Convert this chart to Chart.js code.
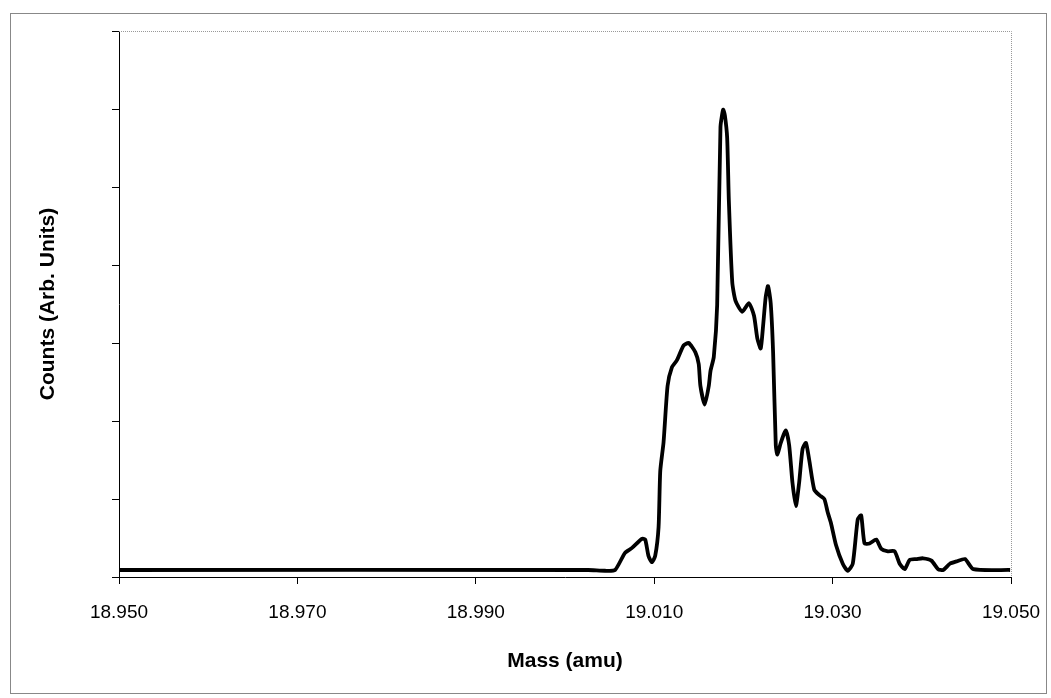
<!DOCTYPE html>
<html><head><meta charset="utf-8">
<script src="https://cdn.jsdelivr.net/npm/chart.js@4"></script>
<style>html,body{margin:0;padding:0;background:#fff}canvas{display:block}</style>
</head><body>
<div style="width:1051px;height:698px"><canvas id="c"></canvas></div>
<script>
const mass = [18.95,19.0026,19.00448,19.00561,19.00673,19.00748,19.00861,19.00899,19.00936,19.00974,19.01011,19.01049,19.01068,19.01105,19.0115,19.01199,19.01255,19.0133,19.01387,19.01462,19.01499,19.01518,19.01567,19.01612,19.01631,19.01668,19.01706,19.01743,19.01773,19.01792,19.01818,19.01837,19.01875,19.01912,19.01987,19.02062,19.02119,19.02156,19.02194,19.0222,19.0225,19.02276,19.02306,19.02333,19.02363,19.02381,19.02419,19.02475,19.02513,19.0255,19.02588,19.02625,19.02663,19.02701,19.02738,19.02794,19.02851,19.02907,19.02945,19.02982,19.03038,19.03114,19.0317,19.03226,19.03282,19.0332,19.03358,19.03414,19.03489,19.03546,19.0362,19.03695,19.03752,19.03808,19.03864,19.03939,19.04014,19.04108,19.04183,19.0424,19.04315,19.0439,19.04484,19.04578,19.0499];
const counts = [0.09,0.09,0.08,0.09,0.31,0.37,0.49,0.48,0.27,0.19,0.27,0.64,1.36,1.73,2.45,2.69,2.78,2.97,3.00,2.88,2.73,2.45,2.21,2.45,2.64,2.82,3.49,5.77,5.99,5.92,5.63,4.82,3.78,3.54,3.40,3.51,3.35,3.06,2.93,3.21,3.59,3.73,3.51,2.88,1.69,1.57,1.72,1.88,1.69,1.21,0.91,1.21,1.64,1.72,1.50,1.12,1.05,1.00,0.83,0.69,0.41,0.17,0.08,0.17,0.74,0.79,0.43,0.43,0.48,0.36,0.33,0.33,0.17,0.10,0.22,0.23,0.24,0.21,0.10,0.09,0.17,0.20,0.23,0.10,0.09];
const xTicks = [18.95,18.97,18.99,19.01,19.03,19.05];

const frame = {id:'frame', afterDraw(ch){const c=ch.ctx,a=ch.chartArea;c.save();
 c.strokeStyle='#999';c.lineWidth=1;c.setLineDash([1,1]);
 c.beginPath();c.moveTo(a.left,a.top+0.5);c.lineTo(a.right+0.5,a.top+0.5);c.lineTo(a.right+0.5,a.bottom);c.stroke();
 c.setLineDash([]);c.strokeStyle='#888';c.strokeRect(10.5,13.5,1036,680);c.restore();}};

new Chart(document.getElementById('c'),{type:'line',
 data:{datasets:[{data:mass.map((m,i)=>({x:m,y:counts[i]})),borderColor:'#000',borderWidth:3.8,pointRadius:0,tension:0.2,fill:false}]},
 options:{responsive:true,maintainAspectRatio:false,animation:false,
  layout:{padding:{top:31,right:40,bottom:0,left:0}},
  plugins:{legend:{display:false},tooltip:{enabled:false}},
  scales:{
   x:{type:'linear',min:18.95,max:19.05,afterBuildTicks(s){s.ticks=xTicks.map(v=>({value:v}));},
      afterFit(s){s.height=121;s.paddingLeft=0;s.paddingRight=0;},
      grid:{drawOnChartArea:false,tickLength:7,color:'#000'},border:{color:'#000',width:1},
      ticks:{padding:17,color:'#000',font:{family:'Liberation Sans',size:19},callback:v=>v.toFixed(3)},
      title:{display:true,text:'Mass (amu)',color:'#000',font:{family:'Liberation Sans',size:21,weight:'bold'},padding:{top:0,bottom:24}}},
   y:{min:0,max:7,afterFit(s){s.width=119;},
      grid:{drawOnChartArea:false,tickLength:7,color:'#000'},border:{color:'#000',width:1},
      ticks:{stepSize:1,display:true,color:'rgba(0,0,0,0)',padding:0,callback:()=>''},
      title:{display:true,text:'Counts (Arb. Units)',color:'#000',font:{family:'Liberation Sans',size:21,weight:'bold'},padding:{top:36,bottom:0}}}
  }},plugins:[frame]});
</script></body></html>
